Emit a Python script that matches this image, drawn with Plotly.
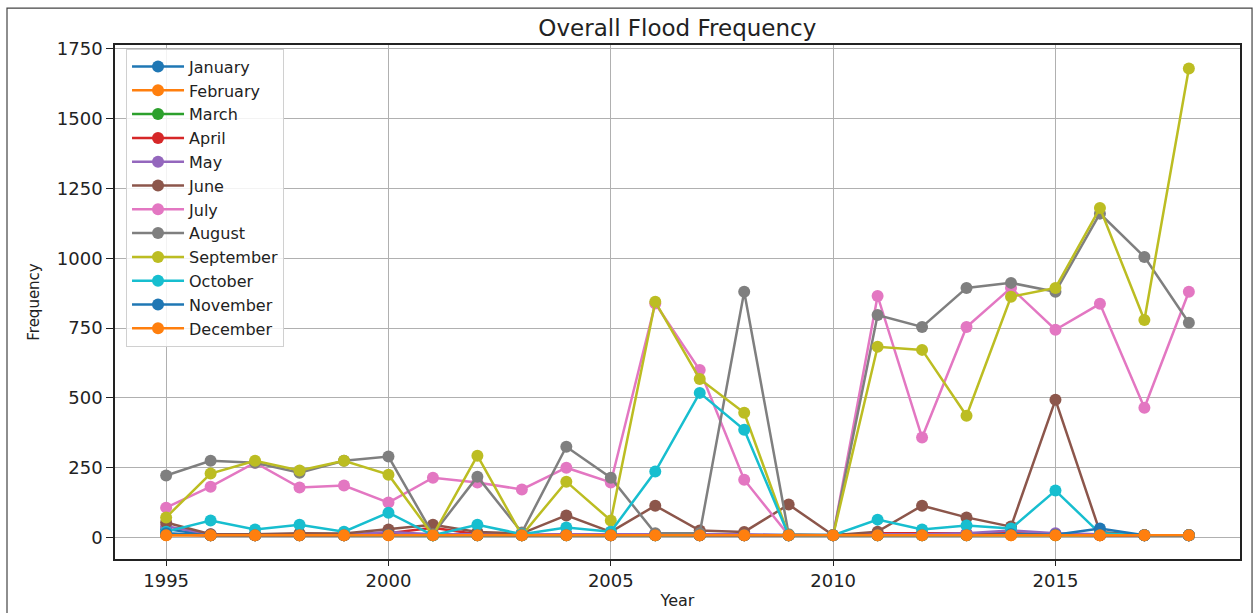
import plotly.graph_objects as go

years = list(range(1995, 2019))

months = ["January", "February", "March", "April", "May", "June", "July",
          "August", "September", "October", "November", "December"]

january   = [30, 8, 8, 10, 8, 12, 8, 8, 8, 10, 8, 8, 8, 8, 8, 8, 8, 10, 12, 15, 12, 12, 8, 8]
february  = [8, 8, 8, 8, 8, 8, 8, 8, 8, 8, 8, 8, 8, 8, 8, 8, 8, 8, 8, 8, 8, 8, 8, 8]
march     = [10, 8, 8, 8, 8, 10, 8, 8, 8, 8, 8, 8, 8, 8, 8, 8, 8, 8, 8, 10, 8, 8, 8, 8]
april     = [12, 8, 8, 8, 8, 15, 35, 12, 8, 12, 8, 12, 8, 8, 8, 8, 15, 15, 15, 15, 12, 8, 8, 8]
may       = [40, 12, 10, 10, 10, 20, 12, 12, 10, 12, 12, 12, 12, 12, 8, 8, 12, 12, 15, 25, 15, 12, 8, 8]
june      = [54, 12, 12, 15, 14, 29, 46, 20, 15, 79, 20, 114, 25, 20, 118, 8, 21, 114, 72, 39, 493, 20, 8, 8]
july      = [107, 182, 268, 179, 186, 125, 214, 197, 172, 250, 197, 838, 600, 207, 8, 8, 865, 358, 754, 894, 744, 837, 465, 880]
august    = [222, 275, 268, 232, 275, 290, 12, 218, 18, 325, 214, 15, 15, 880, 12, 8, 797, 754, 894, 912, 880, 1160, 1005, 769]
september = [72, 229, 275, 240, 275, 225, 8, 293, 8, 200, 61, 844, 568, 447, 8, 8, 683, 672, 436, 862, 894, 1180, 779, 1680]
october   = [21, 61, 29, 46, 21, 89, 8, 46, 12, 36, 21, 236, 518, 386, 8, 8, 64, 29, 43, 32, 168, 15, 8, 8]
november  = [15, 8, 8, 8, 8, 10, 8, 8, 8, 8, 8, 8, 8, 8, 8, 8, 8, 8, 8, 12, 10, 32, 8, 8]
december  = [8, 8, 8, 8, 8, 8, 8, 8, 8, 8, 8, 8, 8, 8, 8, 8, 8, 8, 8, 8, 8, 8, 8, 8]

series = [january, february, march, april, may, june, july, august,
          september, october, november, december]

colors = ["#1f77b4", "#ff7f0e", "#2ca02c", "#d62728", "#9467bd", "#8c564b",
          "#e377c2", "#7f7f7f", "#bcbd22", "#17becf", "#1f77b4", "#ff7f0e"]

FONT = "DejaVu Sans"

fig = go.Figure()
for name, vals, col in zip(months, series, colors):
    fig.add_trace(go.Scatter(
        x=years, y=vals, mode="lines+markers", name=name,
        line=dict(color=col, width=2.5),
        marker=dict(color=col, size=12),
    ))

fig.update_layout(
    width=1259, height=613,
    margin=dict(l=115, r=19, t=45, b=54, autoexpand=False),
    paper_bgcolor="white", plot_bgcolor="white",
    font=dict(family=FONT, color="#222222", size=15),
    title=dict(text="Overall Flood Frequency", x=0.538, xanchor="center",
               y=0.955, yanchor="middle", font=dict(size=23, family=FONT, color="#222222")),
    legend=dict(x=0.0098, y=0.993, xanchor="left", yanchor="top",
                bgcolor="rgba(255,255,255,0.85)", bordercolor="#d0d0d0", borderwidth=1,
                font=dict(size=16, family=FONT, color="#222222"),
                itemwidth=52, tracegroupgap=0),
    showlegend=True,
)

fig.update_xaxes(
    range=[1993.85, 2019.15], tickmode="array", tickvals=[1995, 2000, 2005, 2010, 2015],
    showgrid=True, gridcolor="#b0b0b0", gridwidth=1.3,
    showline=True, linecolor="#222222", linewidth=1.5, mirror=True,
    ticks="outside", ticklen=5, tickcolor="#222222", tickwidth=1.3,
    tickfont=dict(size=18, family=FONT, color="#222222"),
    title=dict(text="Year", font=dict(size=16, family=FONT, color="#222222"), standoff=4),
    zeroline=False, automargin=False,
)
fig.update_yaxes(
    range=[-77, 1764], tickmode="array", tickvals=[0, 250, 500, 750, 1000, 1250, 1500, 1750],
    showgrid=True, gridcolor="#b0b0b0", gridwidth=1.3,
    showline=True, linecolor="#222222", linewidth=1.5, mirror=True,
    ticks="outside", ticklen=7, tickcolor="#222222", tickwidth=1.3,
    tickfont=dict(size=18, family=FONT, color="#222222"),
    title=dict(text="Frequency", font=dict(size=15, family=FONT, color="#222222"), standoff=14),
    zeroline=False, automargin=False,
)

fig.add_shape(type="rect", xref="paper", yref="paper",
              x0=-0.096, x1=1.0107, y0=-0.25, y1=1.0718,
              line=dict(color="#444444", width=1.2), fillcolor="rgba(0,0,0,0)", layer="below")

fig.write_html("out.html")
